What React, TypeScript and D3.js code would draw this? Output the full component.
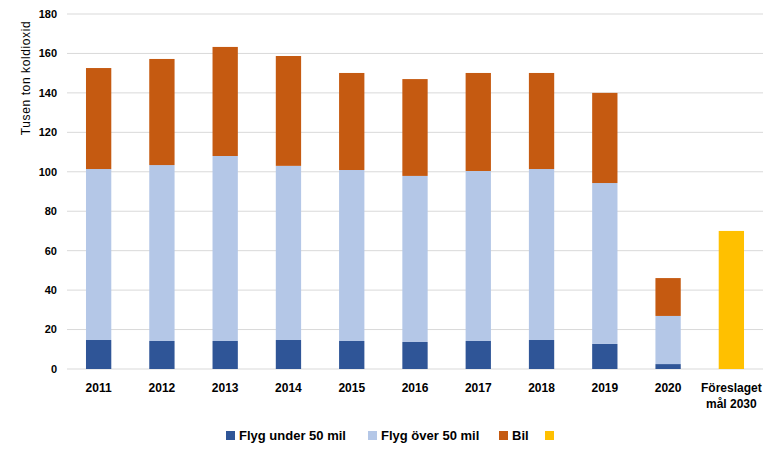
import React from "react";
import * as d3 from "d3";

const categories = ["2011", "2012", "2013", "2014", "2015", "2016", "2017", "2018", "2019", "2020", "Föreslaget\nmål 2030"];
const flygUnder = [14.7, 14.2, 14.2, 14.7, 14.2, 13.7, 14.2, 14.7, 12.7, 2.5, 0];
const flygOver = [101.4, 103.4, 108.0, 103.0, 100.9, 97.9, 100.4, 101.4, 94.3, 26.9, 0];
const bil = [152.6, 157.2, 163.3, 158.7, 150.1, 147.0, 150.1, 150.1, 140.0, 46.1, 0];
const mal = [0, 0, 0, 0, 0, 0, 0, 0, 0, 0, 70];
const yTicks = [0, 20, 40, 60, 80, 100, 120, 140, 160, 180];
const legendLabels = ["Flyg under 50 mil", "Flyg över 50 mil", "Bil", ""];
const colors = ["#2F5597", "#B4C7E7", "#C55A11", "#FFC000"];

export default function App() {
  const W = 778, H = 457;
  const left = 67, right = 763, top = 14, bottom = 369;
  const x = d3.scaleBand().domain(categories).range([left, right]).paddingInner(0.6).paddingOuter(0.3);
  const y = d3.scaleLinear().domain([0, 180]).range([bottom, top]);
  const font = "'Liberation Sans', Arial, sans-serif";

  const segs: { cat: string; y0: number; y1: number; color: string }[] = [];
  categories.forEach((c, i) => {
    if (mal[i] > 0) {
      segs.push({ cat: c, y0: 0, y1: mal[i], color: colors[3] });
    } else {
      segs.push({ cat: c, y0: 0, y1: flygUnder[i], color: colors[0] });
      segs.push({ cat: c, y0: flygUnder[i], y1: flygOver[i], color: colors[1] });
      segs.push({ cat: c, y0: flygOver[i], y1: bil[i], color: colors[2] });
    }
  });

  const legendX = [226, 368, 499, 545];

  return (
    <svg width={W} height={H} style={{ position: "absolute", left: 0, top: 0, background: "#fff" }} fontFamily={font}>
      {yTicks.map((t) => (
        <g key={t}>
          <line x1={left} x2={right} y1={y(t)} y2={y(t)} stroke="#D9D9D9" strokeWidth={1} />
          <text x={57} y={y(t)} dy="0.35em" textAnchor="end" fontSize={11} fontWeight="bold" fill="#000">{t}</text>
        </g>
      ))}
      {segs.map((s, i) => (
        <rect key={i} x={x(s.cat)} width={x.bandwidth()} y={y(s.y1)} height={y(s.y0) - y(s.y1)} fill={s.color} />
      ))}
      {categories.map((c) => {
        const lines = c.split("\n");
        const cx = (x(c) as number) + x.bandwidth() / 2;
        return (
          <text key={c} x={cx} y={392} textAnchor="middle" fontSize={12} fontWeight="bold" fill="#000">
            {lines.map((l, j) => (
              <tspan key={j} x={cx} dy={j === 0 ? 0 : 16}>{l}</tspan>
            ))}
          </text>
        );
      })}
      <text transform={`translate(30,78) rotate(-90)`} textAnchor="middle" fontSize={12} letterSpacing={0.6} fill="#000">Tusen ton koldioxid</text>
      {legendLabels.map((l, i) => (
        <g key={i}>
          <rect x={legendX[i]} y={431} width={9} height={9} fill={colors[i]} />
          <text x={legendX[i] + 13} y={440} fontSize={13} fontWeight="bold" fill="#000">{l}</text>
        </g>
      ))}
    </svg>
  );
}
